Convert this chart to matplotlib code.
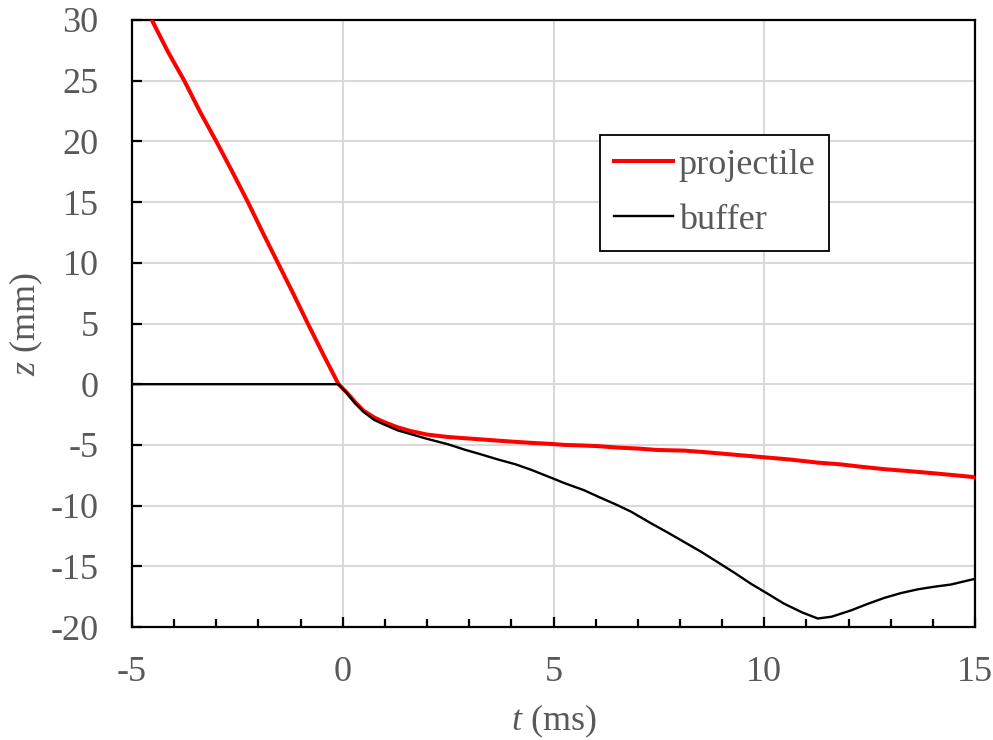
import matplotlib
matplotlib.use("Agg")
import matplotlib.pyplot as plt
from matplotlib.ticker import MultipleLocator

plt.rcParams['font.family'] = ['Liberation Serif', 'DejaVu Serif']
plt.rcParams['mathtext.fontset'] = 'custom'
plt.rcParams['mathtext.rm'] = 'Liberation Serif'
plt.rcParams['mathtext.it'] = 'Liberation Serif:italic'
plt.rcParams['axes.unicode_minus'] = False

# Data
t_proj = [-4.53, -4.15, -3.76, -3.38, -3.0, -2.62, -2.25, -1.9, -1.54, -1.18, -0.83, -0.47, -0.10,
          0.1, 0.3, 0.5, 0.75, 1.0, 1.3, 1.6, 2.0, 2.5, 2.9, 3.3, 3.68, 4.1, 4.47, 4.94, 5.26,
          5.7, 6.05, 6.52, 7.0, 7.47, 8.1, 8.6, 9.1, 9.6, 10.0, 10.6, 11.27, 11.8, 12.3, 12.85,
          13.4, 13.9, 14.43, 15.0]
z_proj = [30, 27.4, 25, 22.4, 20, 17.5, 15, 12.5, 10, 7.5, 5, 2.5, 0,
          -0.7, -1.5, -2.2, -2.75, -3.15, -3.55, -3.85, -4.15, -4.35, -4.45, -4.55, -4.65, -4.75,
          -4.83, -4.92, -5.0, -5.05, -5.1, -5.22, -5.3, -5.42, -5.47, -5.6, -5.75, -5.9, -6.02,
          -6.2, -6.46, -6.6, -6.8, -7.0, -7.15, -7.3, -7.47, -7.66]

t_buf = [-5.0, -0.1, 0.1, 0.3, 0.5, 0.75, 1.0, 1.3, 1.6, 2.0, 2.5, 2.9, 3.3, 3.68, 4.1, 4.47,
         4.94, 5.26, 5.73, 6.05, 6.52, 6.84, 7.31, 7.7, 8.1, 8.5, 8.89, 9.3, 9.68, 10.1, 10.47,
         10.9, 11.27, 11.6, 12.06, 12.45, 12.85, 13.25, 13.64, 14.0, 14.43, 15.0]
z_buf = [0, 0, -0.75, -1.6, -2.3, -2.95, -3.35, -3.8, -4.1, -4.5, -4.95, -5.4, -5.8, -6.2, -6.6,
         -7.05, -7.7, -8.15, -8.74, -9.25, -9.97, -10.5, -11.45, -12.2, -13.0, -13.8, -14.65,
         -15.55, -16.43, -17.3, -18.08, -18.8, -19.3, -19.15, -18.63, -18.1, -17.6, -17.2, -16.9,
         -16.7, -16.5, -16.03]

labels = ['projectile', 'buffer']

W, H = 993, 740
fig = plt.figure(figsize=(W / 100, H / 100), dpi=100)
ax = fig.add_axes([132 / W, 1 - 627 / H, (975 - 132) / W, (627 - 20) / H])

grey = '#595959'
ax.plot(t_proj, z_proj, color='#ff0000', lw=2.9, label=labels[0], zorder=3)
ax.plot(t_buf, z_buf, color='black', lw=1.7, label=labels[1], zorder=3)

ax.set_xlim(-5, 15)
ax.set_ylim(-20, 30)
ax.xaxis.set_major_locator(MultipleLocator(5))
ax.xaxis.set_minor_locator(MultipleLocator(1))
ax.yaxis.set_major_locator(MultipleLocator(5))

ax.grid(True, which='major', color='#d9d9d9', lw=1.5, zorder=0)
ax.set_axisbelow(True)
for s in ax.spines.values():
    s.set_color('black')
    s.set_linewidth(1.6)

ax.tick_params(axis='both', which='major', direction='in', length=7, width=1.6,
               labelsize=26, labelcolor=grey, colors='black')
ax.tick_params(axis='x', which='major', pad=21)
ax.tick_params(axis='y', which='major', pad=24)
ax.tick_params(axis='x', which='minor', direction='in', length=6, width=1.6)
for lab in ax.get_xticklabels() + ax.get_yticklabels():
    lab.set_color(grey)

ax.set_xlabel(r'$t$ (ms)', fontsize=26, color=grey, labelpad=10)
ax.set_ylabel(r'$z$ (mm)', fontsize=26, color=grey, labelpad=4)

leg = ax.legend(loc='upper left', bbox_to_anchor=(600 / W, 1 - 135 / H),
                bbox_transform=fig.transFigure, fontsize=26, frameon=True,
                fancybox=False, edgecolor='black', framealpha=1,
                handlelength=1.65, handletextpad=0.15, labelspacing=0.6,
                borderpad=0.38, borderaxespad=0)
leg.get_frame().set_linewidth(1.3)
for txt in leg.get_texts():
    txt.set_color(grey)

fig.savefig('out.png', dpi=100)
